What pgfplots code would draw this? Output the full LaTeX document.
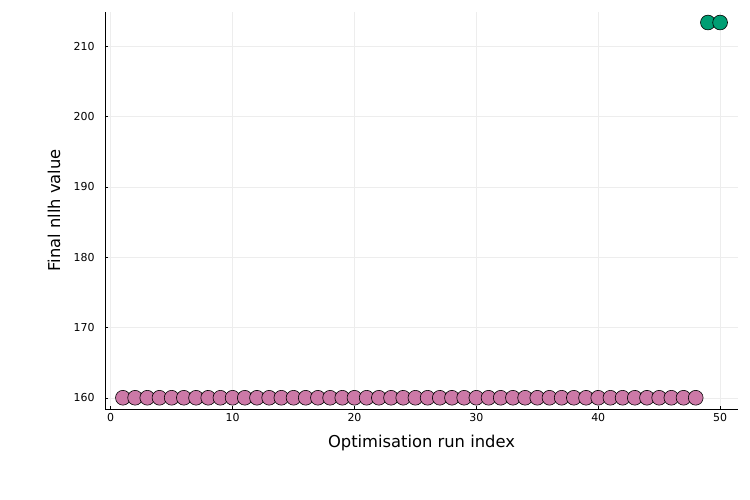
\documentclass[border=0pt]{standalone}
\usepackage{pgfplots}
\pgfplotsset{compat=1.18}
\usepackage{fontspec}
\setmainfont{DejaVu Sans}
\definecolor{pinkw}{HTML}{CC79A7}
\definecolor{greenw}{HTML}{009E73}
\begin{document}
\begin{tikzpicture}[x=1bp,y=1bp]
\path[use as bounding box] (0,0) rectangle (750,500);
\begin{axis}[
  at={(105bp,91bp)}, anchor=south west,
  scale only axis, width=633bp, height=397bp,
  xmin=-0.47, xmax=51.47, ymin=158.4, ymax=214.9,
  axis lines*=left, axis line style={line width=0.8pt, black},
  xtick={0,10,20,30,40,50}, ytick={160,170,180,190,200,210},
  tick align=inside, major tick length=3bp, tick style={black, line width=0.5pt},
  grid=major, major grid style={line width=0.5pt, black!7},
  /pgf/number format/assume math mode=true,
  ticklabel style={font=\fontsize{11}{12}\selectfont},
  xlabel={Optimisation run index}, ylabel={Final nllh value},
  label style={font=\fontsize{16.4}{18}\selectfont},
  xlabel style={at={(axis description cs:0.5,0)}, anchor=center, yshift=-34bp},
  ylabel style={at={(axis description cs:0,0.5)}, anchor=center, rotate=0, yshift=51bp},
  xticklabel style={yshift=-1bp},
  yticklabel style={xshift=-7bp},
  clip=false,
]
\addplot[only marks, mark=*, mark size=7.4bp, mark options={fill=pinkw, draw=black, line width=0.6pt}] coordinates {
(1,160)(2,160)(3,160)(4,160)(5,160)(6,160)(7,160)(8,160)(9,160)(10,160)
(11,160)(12,160)(13,160)(14,160)(15,160)(16,160)(17,160)(18,160)(19,160)(20,160)
(21,160)(22,160)(23,160)(24,160)(25,160)(26,160)(27,160)(28,160)(29,160)(30,160)
(31,160)(32,160)(33,160)(34,160)(35,160)(36,160)(37,160)(38,160)(39,160)(40,160)
(41,160)(42,160)(43,160)(44,160)(45,160)(46,160)(47,160)(48,160)
};
\addplot[only marks, mark=*, mark size=7.4bp, mark options={fill=greenw, draw=black, line width=0.6pt}] coordinates {
(49,213.4)(50,213.4)
};
\end{axis}
\end{tikzpicture}
\end{document}
